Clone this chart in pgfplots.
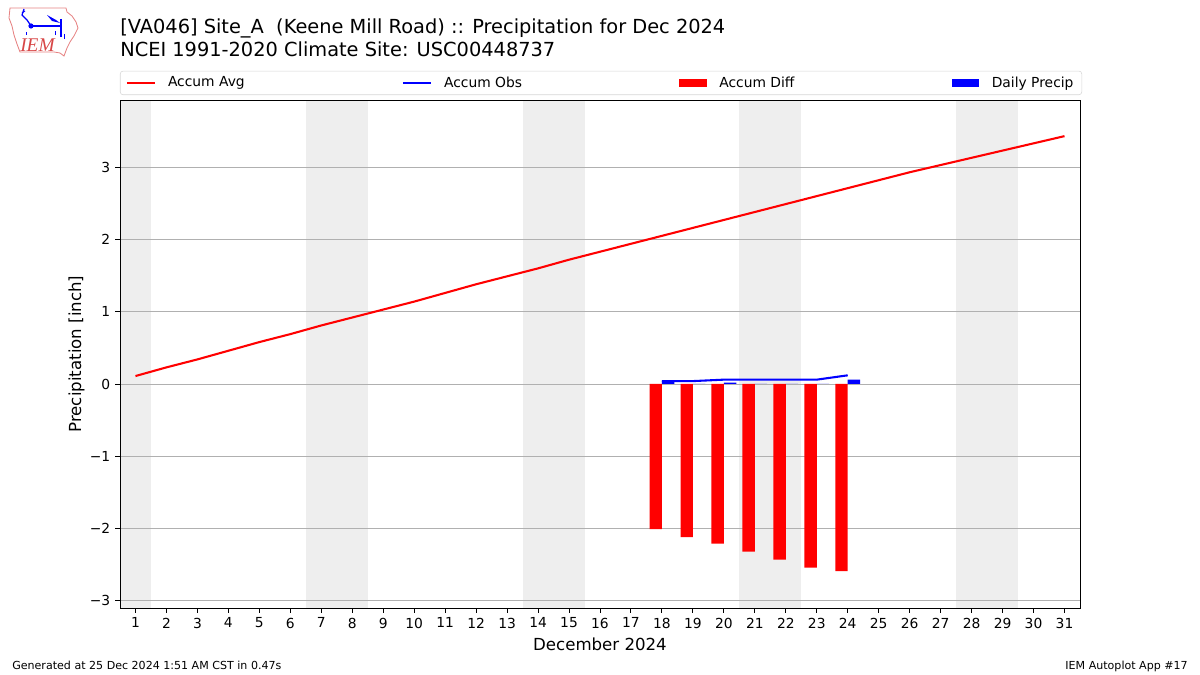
\documentclass[border=0pt]{standalone}
\usepackage{pgfplots}
\pgfplotsset{compat=1.18}
\usepackage{fontspec}
\setmainfont{DejaVu Sans}
\newfontfamily\logofont{Liberation Serif}

\definecolor{wkend}{RGB}{238,238,238}
\definecolor{gridgray}{RGB}{176,176,176}
\definecolor{legframe}{RGB}{214,214,214}
\definecolor{logored}{RGB}{215,70,70}
\definecolor{logoedge}{RGB}{230,130,130}

\pgfplotsset{
  redline legend/.style={legend image code/.code={\draw[red, line width=1.5pt] (0pt,0pt) -- (20pt,0pt);}},
  blueline legend/.style={legend image code/.code={\draw[blue, line width=1.5pt] (0pt,0pt) -- (20pt,0pt);}},
  redpatch legend/.style={legend image code/.code={\fill[red, sharp corners] (0pt,-3pt) rectangle (20pt,3pt);}},
  bluepatch legend/.style={legend image code/.code={\fill[blue, sharp corners] (0pt,-3pt) rectangle (20pt,3pt);}},
}

\begin{document}
\begin{tikzpicture}
% 1 px of the 1200x675 reference = 0.7227pt
\begin{scope}[x=0.7227pt,y=0.7227pt]
  \useasboundingbox (0,0) rectangle (1200,675);
  % logo (rough)
  \draw[logoedge, line width=0.6pt] (10,667) -- (66,667) -- (67,663) -- (72,659) -- (76,653)
     -- (78,647) -- (74,639) -- (70,633) -- (67,627) -- (64,619) -- (60,622) -- (54,623)
     -- (20,623) -- (17,631) -- (14,640) -- (12,649) -- (9,657) -- cycle;
  \draw[blue, line width=1.2pt] (31,649) -- (61,649);
  \fill[blue] (31,649) circle (2.6);
  \draw[blue, line width=0.9pt] (24,666) -- (22,660) -- (27,655) -- (31,649);
  \draw[blue, line width=0.7pt] (22,662) -- (25,664);
  \fill[blue] (47,660) -- (56,655) -- (60,652) -- (52,654) -- cycle;
  \draw[blue, line width=0.9pt] (61,656) -- (61,638);
  \draw[blue, line width=0.7pt] (55,644) -- (55,640) (64,641) -- (64,636) (26,643) -- (26,640);
  \node[anchor=base west, inner sep=0pt, text=logored, font=\logofont\itshape\fontsize{14}{16}\selectfont] at (20,623) {IEM};
  % titles
  \node[anchor=base west, inner sep=0pt, font=\fontsize{14}{16}\selectfont] at (120,641) {[VA046] Site\_A\ \ (Keene Mill Road) :: Precipitation for Dec 2024};
  \node[anchor=base west, inner sep=0pt, font=\fontsize{14}{16}\selectfont] at (120,618) {NCEI 1991-2020 Climate Site: USC00448737};
  % footer
  \node[anchor=base west, inner sep=0pt, font=\fontsize{8}{10}\selectfont] at (12,6) {Generated at 25 Dec 2024 1:51 AM CST in 0.47s};
  \node[anchor=base east, inner sep=0pt, font=\fontsize{8}{10}\selectfont] at (1188,6) {IEM Autoplot App \#17};
\end{scope}

\begin{axis}[
  at={(86.72pt,48.42pt)}, anchor=south west,
  scale only axis, width=693.79pt, height=367.13pt,
  xmin=0.5, xmax=31.5, ymin=-3.1, ymax=3.93,
  xtick={1,...,31}, ytick={-3,...,3},
  yticklabels={−3,−2,−1,0,1,2,3},
  tick align=outside, xtick pos=bottom, ytick pos=left,
  major tick length=3.5pt,
  tick style={black, line width=0.7pt},
  axis line style={line width=0.7pt},
  ymajorgrids, grid style={gridgray, line width=0.7pt},
  tick label style={font=\fontsize{10}{12}\selectfont},
  label style={font=\fontsize{12}{14}\selectfont},
  ylabel style={yshift=-3pt},
  xlabel={December 2024}, ylabel={Precipitation [inch]},
  /pgf/number format/assume math mode=true,
  set layers,
  legend columns=4,
  legend cell align=left,
  legend style={at={(0,1)}, anchor=south west, yshift=3.6pt,
    draw=legframe, rounded corners=2pt, inner xsep=4pt, inner ysep=2pt,
    font=\fontsize{10}{12}\selectfont,
    /tikz/every odd column/.append style={column sep=7pt},
    /tikz/every even column/.append style={column sep=111.6pt}},
]
\begin{pgfonlayer}{axis background}
  \fill[wkend] (axis cs:0.5,-3.1) rectangle (axis cs:1.5,3.93);
  \fill[wkend] (axis cs:6.5,-3.1) rectangle (axis cs:8.5,3.93);
  \fill[wkend] (axis cs:13.5,-3.1) rectangle (axis cs:15.5,3.93);
  \fill[wkend] (axis cs:20.5,-3.1) rectangle (axis cs:22.5,3.93);
  \fill[wkend] (axis cs:27.5,-3.1) rectangle (axis cs:29.5,3.93);
\end{pgfonlayer}

\addplot[red, line width=1.5pt, no markers, redline legend] table {
day avg
1 0.11
2 0.23
3 0.34
4 0.46
5 0.58
6 0.69
7 0.81
8 0.92
9 1.03
10 1.14
11 1.26
12 1.38
13 1.49
14 1.60
15 1.72
16 1.83
17 1.94
18 2.05
19 2.16
20 2.27
21 2.38
22 2.49
23 2.60
24 2.71
25 2.82
26 2.93
27 3.03
28 3.13
29 3.23
30 3.33
31 3.43
};
\addlegendentry{Accum Avg}

\addplot[blue, line width=1.5pt, no markers, blueline legend] table {
day obs
18 0.04
19 0.04
20 0.06
21 0.06
22 0.06
23 0.06
24 0.12
};
\addlegendentry{Accum Obs}

\addplot[ybar, bar width=0.4, bar shift=0pt, fill=red, draw=none, redpatch legend]
  table[x expr=\thisrow{day}-0.2, y=diff] {
day diff
18 -2.01
19 -2.12
20 -2.21
21 -2.32
22 -2.43
23 -2.54
24 -2.59
};
\addlegendentry{Accum Diff}

\addplot[ybar, bar width=0.4, bar shift=0pt, fill=blue, draw=none, bluepatch legend]
  table[x expr=\thisrow{day}+0.2, y=precip] {
day precip
18 0.04
19 0.00
20 0.02
21 0.00
22 0.00
23 0.00
24 0.06
};
\addlegendentry{Daily Precip}
\end{axis}
\end{tikzpicture}
\end{document}
